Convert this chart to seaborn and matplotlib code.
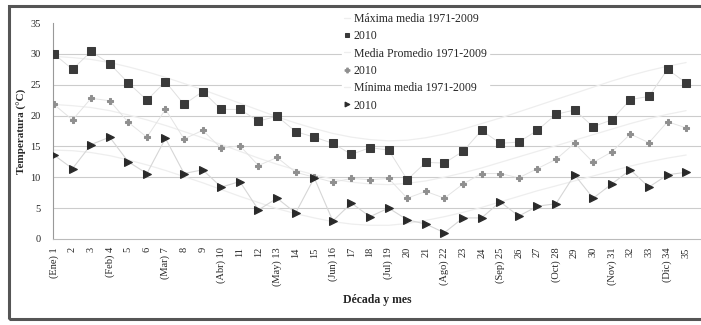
import numpy as np
import pandas as pd
import matplotlib
matplotlib.use("Agg")
import matplotlib.pyplot as plt
import seaborn as sns
from matplotlib.patches import Rectangle

# Decades of the year (1..35) and month labels for the first decade of each month
decades = list(range(1, 36))
month_at = {1: "Ene", 4: "Feb", 7: "Mar", 10: "Abr", 13: "May", 16: "Jun",
            19: "Jul", 22: "Ago", 25: "Sep", 28: "Oct", 31: "Nov", 34: "Dic"}

# 2010 values per decade (°C)
max_2010 = [30.0, 27.5, 30.4, 28.4, 25.3, 22.5, 25.5, 21.8, 23.9, 21.0, 21.0, 19.1,
            19.9, 17.4, 16.5, 15.5, 13.7, 14.8, 14.4, 9.6, 12.4, 12.3, 14.2, 17.6,
            15.5, 15.7, 17.6, 20.2, 20.9, 18.2, 19.3, 22.6, 23.1, 27.5, 25.3]
mean_2010 = [21.8, 19.3, 22.8, 22.4, 18.9, 16.5, 21.0, 16.2, 17.6, 14.7, 15.1, 11.9,
             13.2, 10.8, 10.0, 9.2, 9.8, 9.6, 9.8, 6.6, 7.7, 6.6, 8.9, 10.6,
             10.6, 9.9, 11.4, 12.9, 15.5, 12.4, 14.1, 17.0, 15.6, 19.0, 18.0]
min_2010 = [13.6, 11.4, 15.3, 16.5, 12.5, 10.6, 16.3, 10.6, 11.2, 8.4, 9.3, 4.7,
            6.6, 4.2, 9.9, 2.9, 5.8, 3.6, 5.0, 3.1, 2.4, 1.0, 3.4, 3.4,
            6.0, 3.7, 5.3, 5.7, 10.4, 6.6, 8.9, 11.2, 8.4, 10.4, 10.8]

# Long-term means 1971-2009 per decade (°C)
max_hist = [29.6, 29.4, 29.1, 28.6, 27.9, 27.1, 26.2, 25.2, 24.2, 23.1, 22.0, 20.9,
            19.8, 18.8, 17.9, 17.1, 16.5, 16.1, 15.9, 16.0, 16.4, 17.0, 17.8, 18.7,
            19.6, 20.6, 21.6, 22.6, 23.6, 24.6, 25.6, 26.5, 27.3, 28.0, 28.6]
mean_hist = [21.8, 21.6, 21.3, 20.8, 20.1, 19.3, 18.4, 17.4, 16.4, 15.3, 14.2, 13.1,
             12.1, 11.2, 10.4, 9.7, 9.2, 8.9, 8.8, 9.0, 9.4, 10.0, 10.7, 11.5,
             12.4, 13.3, 14.2, 15.1, 16.0, 16.9, 17.8, 18.7, 19.5, 20.2, 20.8]
min_hist = [14.4, 14.3, 14.0, 13.5, 12.8, 12.0, 11.1, 10.1, 9.1, 8.0, 6.9, 5.9,
            4.9, 4.1, 3.4, 2.8, 2.4, 2.2, 2.2, 2.5, 3.0, 3.6, 4.3, 5.1,
            6.0, 6.9, 7.8, 8.6, 9.4, 10.2, 11.0, 11.8, 12.5, 13.1, 13.6]

tick_labels = [f"({month_at[d]}) {d}" if d in month_at else str(d) for d in decades]

df = pd.DataFrame({
    "decada": decades,
    "max_2010": max_2010, "mean_2010": mean_2010, "min_2010": min_2010,
    "max_hist": max_hist, "mean_hist": mean_hist, "min_hist": min_hist,
})

sns.set_style("white")
plt.rcParams["font.family"] = ["Liberation Serif", "DejaVu Serif"]

fig = plt.figure(figsize=(7.01, 3.25), dpi=100)
ax = fig.add_axes([0.0756, 0.265, 0.9244, 0.664])

# horizontal grid
for yv in range(5, 35, 5):
    ax.axhline(yv, color="#cccccc", lw=0.8, zorder=0)

faint = "#eeeeee"
sns.lineplot(data=df, x="decada", y="max_hist", ax=ax, color=faint, lw=0.9,
             label="Máxima media 1971-2009", zorder=1)
sns.lineplot(data=df, x="decada", y="max_2010", ax=ax, color="#e0e0e0", lw=0.7,
             marker="s", markersize=5.5, markerfacecolor="#3a3a3a",
             markeredgecolor="#3a3a3a", label="2010", zorder=3)
sns.lineplot(data=df, x="decada", y="mean_hist", ax=ax, color=faint, lw=0.9,
             label="Media Promedio 1971-2009", zorder=1)
sns.lineplot(data=df, x="decada", y="mean_2010", ax=ax, color="#e4e4e4", lw=0.7,
             marker="P", markersize=4.5, markerfacecolor="#8f8f8f",
             markeredgecolor="#8f8f8f", label="2010", zorder=3)
sns.lineplot(data=df, x="decada", y="min_hist", ax=ax, color=faint, lw=0.9,
             label="Mínima media 1971-2009", zorder=1)
sns.lineplot(data=df, x="decada", y="min_2010", ax=ax, color="#d6d6d6", lw=0.8,
             marker=">", markersize=5.5, markerfacecolor="#2a2a2a",
             markeredgecolor="#2a2a2a", label="2010", zorder=3)

ax.set_xlim(0.95, 35.8)
ax.set_ylim(0, 35)
ax.set_yticks(range(0, 36, 5))
ax.set_xticks(decades)
ax.set_xticklabels(tick_labels, rotation=90, fontsize=7.5)
ax.tick_params(axis="y", labelsize=7.5, length=3, color="#888888", pad=6)
ax.tick_params(axis="x", length=0, pad=6)

for s in ["top", "right"]:
    ax.spines[s].set_visible(False)
ax.spines["left"].set_color("#999999")
ax.spines["bottom"].set_color("#bbbbbb")
ax.spines["left"].set_linewidth(0.8)
ax.spines["bottom"].set_linewidth(0.8)

ax.set_xlabel("Década y mes", fontsize=8.5, fontweight="bold", labelpad=6)
ax.set_ylabel("Temperatura (°C)", fontsize=8, fontweight="bold", labelpad=2)

leg = ax.legend(loc="upper left", bbox_to_anchor=(0.437, 1.085), frameon=True,
                fontsize=8.5, handlelength=0.5, handletextpad=0.3,
                labelspacing=0.45, borderpad=0.2, fancybox=False)
leg.get_frame().set_edgecolor("white")
leg.get_frame().set_facecolor("white")
leg.get_frame().set_alpha(1.0)
for h in leg.legend_handles:
    if h.get_label() == "2010":
        h.set_linestyle("none")
        h.set_markersize(3.5)

# outer frame of the figure
fig.patches.append(Rectangle((0.013, 0.018), 1.2, 0.965, transform=fig.transFigure,
                             fill=False, edgecolor="#555555", lw=2.2))

fig.savefig("out.png", dpi=100)
